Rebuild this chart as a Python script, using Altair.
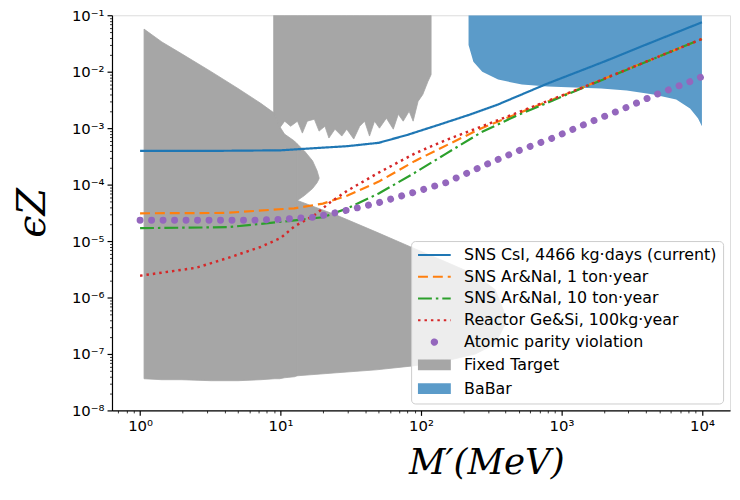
import altair as alt
import pandas as pd

# ---------------- data ----------------
NAMES = [
    "SNS CsI, 4466 kg·days (current)",
    "SNS Ar&NaI, 1 ton·year",
    "SNS Ar&NaI, 10 ton·year",
    "Reactor Ge&Si, 100kg·year",
    "Atomic parity violation",
    "Fixed Target",
    "BaBar",
]
COLORS = ["#1f77b4", "#ff7f0e", "#2ca02c", "#d62728", "#9467bd", "#a6a6a6", "#5b9bc9"]

csi_m = [1, 3, 10, 17, 30, 50, 80, 130, 220, 350, 800, 2000, 4500, 10000]
csi_eps = [3.95e-4, 3.95e-4, 4.05e-4, 4.4e-4, 4.8e-4, 5.5e-4, 7.6e-4, 1.12e-3,
           1.72e-3, 2.6e-3, 6.2e-3, 1.5e-2, 3.4e-2, 7.5e-2]

ar1_m = [1, 4, 12.5, 20, 30, 50, 90, 160, 270, 1400, 10000]
ar1_eps = [3.1e-5, 3.15e-5, 3.8e-5, 4.6e-5, 6.4e-5, 1.13e-4, 2.6e-4, 5.3e-4,
           1.0e-3, 5.2e-3, 3.8e-2]

ar10_m = [1, 4.2, 9.5, 20, 30, 50, 88, 150, 270, 470, 1400, 10000]
ar10_eps = [1.69e-5, 1.76e-5, 2.16e-5, 2.64e-5, 3.8e-5, 6.95e-5, 1.56e-4, 3.5e-4,
            8.5e-4, 1.63e-3, 5.1e-3, 3.8e-2]

ge_m = [1, 2.5, 4.2, 7.2, 10, 12.6, 17.4, 22.5, 30, 50, 92, 157, 273, 1400, 10000]
ge_eps = [2.43e-6, 3.36e-6, 5.0e-6, 7.85e-6, 1.13e-5, 1.83e-5, 2.86e-5, 4.83e-5,
          7.85e-5, 1.63e-4, 3.64e-4, 6.41e-4, 1.08e-3, 5.2e-3, 3.8e-2]

apv_m = [1, 5.9, 10, 17.4, 29.6, 50.6, 88, 150, 287, 490, 864, 1525, 2690, 4745, 8230, 10000]
apv_eps = [2.33e-5, 2.33e-5, 2.43e-5, 2.64e-5, 3.5e-5, 4.83e-5, 7.24e-5, 1.08e-4,
           2.24e-4, 3.95e-4, 6.68e-4, 1.22e-3, 2.15e-3, 3.95e-3, 6.68e-3, 8.17e-3]

# Fixed target: left region (main body)
fta_m = [1.067, 1.43, 1.98, 3.21, 4.98, 7.23, 9.07, 9.84, 10.67, 12.55, 13.17]
fta_hi = [5.68e-2, 3.36e-2, 2.07e-2, 1.0e-2, 5.04e-3, 2.75e-3, 1.83e-3, 1.08e-3,
          7.85e-4, 5.92e-4, 5.24e-4]
fta_lo = [3.64e-8, 3.5e-8, 3.5e-8, 3.36e-8, 3.36e-8, 3.5e-8, 3.64e-8, 3.64e-8,
          3.79e-8, 3.95e-8, 4.11e-8]
# Fixed target: bulge
ftb_m = [13.17, 14.8, 16.9, 18.2, 18.8]
ftb_hi = [5.24e-4, 3.95e-4, 2.64e-4, 1.76e-4, 1.33e-4]
ftb_lo = [5.24e-5, 6.41e-5, 8.51e-5, 1.08e-4, 1.27e-4]
# Fixed target: lower wedge
ftc_m = [13.17, 25.2, 48.2, 87.8, 150, 244, 337, 397]
ftc_hi = [5.24e-5, 2.86e-5, 1.44e-5, 7.54e-6, 4.28e-6, 2.53e-6, 1.38e-6, 5.04e-7]
ftc_lo = [4.11e-8, 4.65e-8, 5.24e-8, 6.15e-8, 7.53e-8, 1.0e-7, 1.5e-7, 3.36e-7]
# Fixed target: upper block (jagged lower edge)
ftt_m = [8.93, 9.07, 9.84, 10.7, 11.8, 13.2, 14.3, 15.5, 17.4, 18.8, 20.7, 22.1, 24.4,
         27.3, 29.6, 33.2, 36.6, 39.7, 43.0, 46.7, 50.6, 56.7, 63.5, 68.9, 74.7, 82.3,
         87.9, 95.3, 103, 112, 118]
ftt_lo = [1.76e-3, 1.76e-3, 1.0e-3, 1.33e-3, 1.08e-3, 1.33e-3, 8.17e-4, 1.33e-3,
          1.44e-3, 8.86e-4, 1.08e-3, 6.68e-4, 9.59e-4, 7.24e-4, 9.59e-4, 6.41e-4,
          1.08e-3, 1.33e-3, 7.24e-4, 1.33e-3, 1.0e-3, 1.5e-3, 9.59e-4, 1.76e-3,
          1.33e-3, 1.99e-3, 1.33e-3, 2.98e-3, 3.95e-3, 6.68e-3, 8.86e-3]

babar_m = [218, 236, 273, 354, 523, 797, 1236, 1915, 2917, 4520, 6560, 8230, 9370, 10000]
babar_lo = [2.98e-2, 1.5e-2, 1.0e-2, 7.24e-3, 5.92e-3, 5.46e-3, 5.24e-3, 5.03e-3,
            4.64e-3, 3.95e-3, 3.23e-3, 2.24e-3, 1.5e-3, 1.08e-3]

TOP = 0.1
X_MAJOR = [1, 10, 100, 1000, 10000]
Y_MAJOR = [1e-8, 1e-7, 1e-6, 1e-5, 1e-4, 1e-3, 1e-2, 1e-1]

# ---------------- tables ----------------
ft_rows = []
for piece, ms, los, his in [("main", fta_m, fta_lo, fta_hi),
                            ("bulge", ftb_m, ftb_lo, ftb_hi),
                            ("lower", ftc_m, ftc_lo, ftc_hi),
                            ("upper", ftt_m, ftt_lo, [TOP] * len(ftt_m))]:
    for a, b, c in zip(ms, los, his):
        ft_rows.append({"piece": piece, "M": a, "lo": b, "hi": c})
ft_df = pd.DataFrame(ft_rows)
babar_df = pd.DataFrame({"M": babar_m, "lo": babar_lo, "hi": [TOP] * len(babar_m)})

x_minor = [k * 10 ** e for e in range(-1, 4) for k in range(2, 10)]
x_minor = [v for v in x_minor if 10 ** -0.2 <= v <= 10 ** 4.2]
y_minor = [k * 10.0 ** e for e in range(-8, -1) for k in range(2, 10)]

MAJ = "abs(log(datum.value)/LN10 - round(log(datum.value)/LN10)) < 1e-6"
LBL = ("(" + MAJ + ") ? '10' + (round(log(datum.value)/LN10) < 0 ? '⁻' : '') + "
       "['⁰','¹','²','³','⁴','⁵','⁶','⁷','⁸','⁹'][abs(round(log(datum.value)/LN10))] : ''")

common_axis = dict(
    labelExpr=LBL, grid=False, domainColor="black", domainWidth=1.2,
    tickColor="black", labelColor="black", labelFont="DejaVu Sans", labelFontSize=15,
    tickSize={"condition": {"test": MAJ, "value": 5}, "value": 2.5},
    tickWidth={"condition": {"test": MAJ, "value": 1.2}, "value": 0.8},
    titleFont="DejaVu Serif", titleFontStyle="italic", titleFontWeight="normal",
    titleColor="black", labelOverlap=False,
)
x_axis = alt.Axis(values=X_MAJOR + x_minor, title="M′(MeV)", labelPadding=3,
                  titleFontSize=36, titleX=378, titleY=64, titleAlign="center",
                  titleBaseline="alphabetic", **common_axis)
y_axis = alt.Axis(values=Y_MAJOR + y_minor, title="ϵZ", labelPadding=3,
                  titleFontSize=40, titleX=-80, titleY=199, titleAngle=270,
                  titleAlign="center", titleBaseline="middle", **common_axis)

xs = alt.Scale(type="log", domain=[10 ** -0.2, 10 ** 4.2], nice=False)
ys = alt.Scale(type="log", domain=[1e-8, 1e-1], nice=False)
X = alt.X("M:Q", scale=xs, axis=x_axis)
Y = alt.Y("eps:Q", scale=ys, axis=y_axis)
YL = alt.Y("lo:Q", scale=ys, axis=y_axis)

ft_layer = alt.Chart(ft_df).mark_area(color=COLORS[5], stroke=COLORS[5], strokeWidth=0.8,
                                      opacity=1, clip=True).encode(
    x=X, y=YL, y2=alt.Y2("hi:Q"), detail="piece:N")
babar_layer = alt.Chart(babar_df).mark_area(color=COLORS[6], opacity=1, clip=True).encode(
    x=X, y=YL, y2=alt.Y2("hi:Q"))


def line(ms, es, color, dash, width=2.2, cap="butt"):
    df = pd.DataFrame({"M": ms, "eps": es})
    return alt.Chart(df).mark_line(color=color, strokeDash=dash, strokeWidth=width,
                                   strokeCap=cap, clip=True).encode(x=X, y=Y)


l_csi = line(csi_m, csi_eps, COLORS[0], [1, 0])
l_ar1 = line(ar1_m, ar1_eps, COLORS[1], [10, 5])
l_ar10 = line(ar10_m, ar10_eps, COLORS[2], [14, 4, 2.5, 4])
l_ge = line(ge_m, ge_eps, COLORS[3], [2.5, 4], width=2.5)
l_apv = line(apv_m, apv_eps, COLORS[4], [0.001, 11.6], width=7, cap="round")

# legend built from a scale over the series names (no visible marks)
SHAPES = ["M-2.75,0H2.75"] * 4 + [
    "M-0.45,0A0.45,0.45,0,1,0,0.45,0A0.45,0.45,0,1,0,-0.45,0Z",
    "M-2.6,-0.75H2.6V0.75H-2.6Z",
    "M-2.6,-0.75H2.6V0.75H-2.6Z",
]
DASHES = [[1, 0], [10, 5], [14, 4, 2.5, 4], [2.5, 4], [1, 0], [1, 0], [1, 0]]
leg_df = pd.DataFrame({"series": NAMES, "M": [None] * 7, "eps": [None] * 7})
LEG = alt.Legend(title=None, orient="bottom-right", offset=7, padding=6,
                 fillColor="rgba(255,255,255,0.8)", strokeColor="#cccccc",
                 cornerRadius=4, labelFont="DejaVu Sans", labelFontSize=16,
                 labelColor="black", labelLimit=400, rowPadding=6, symbolSize=144,
                 symbolStrokeWidth=2, symbolOffset=9.5, labelOffset=22,
                 symbolOpacity=1)
legend_layer = alt.Chart(leg_df).mark_point(opacity=1, size=144).encode(
    x=X, y=Y,
    stroke=alt.Stroke("series:N", scale=alt.Scale(domain=NAMES, range=COLORS), legend=LEG),
    fill=alt.Fill("series:N", scale=alt.Scale(domain=NAMES, range=COLORS), legend=LEG),
    shape=alt.Shape("series:N", scale=alt.Scale(domain=NAMES, range=SHAPES), legend=LEG),
    strokeDash=alt.StrokeDash("series:N", scale=alt.Scale(domain=NAMES, range=DASHES), legend=LEG),
)

chart = alt.layer(ft_layer, babar_layer, l_csi, l_ar1, l_ar10, l_ge, l_apv, legend_layer).properties(
    width=624, height=399,
    padding={"left": 105, "top": 5, "right": 2, "bottom": 74},
    autosize=alt.AutoSizeParams(type="none"),
).configure_view(stroke="black", strokeWidth=1.2).configure(background="white")

chart.save("out.html", embed_options={"renderer": "svg", "actions": False})
